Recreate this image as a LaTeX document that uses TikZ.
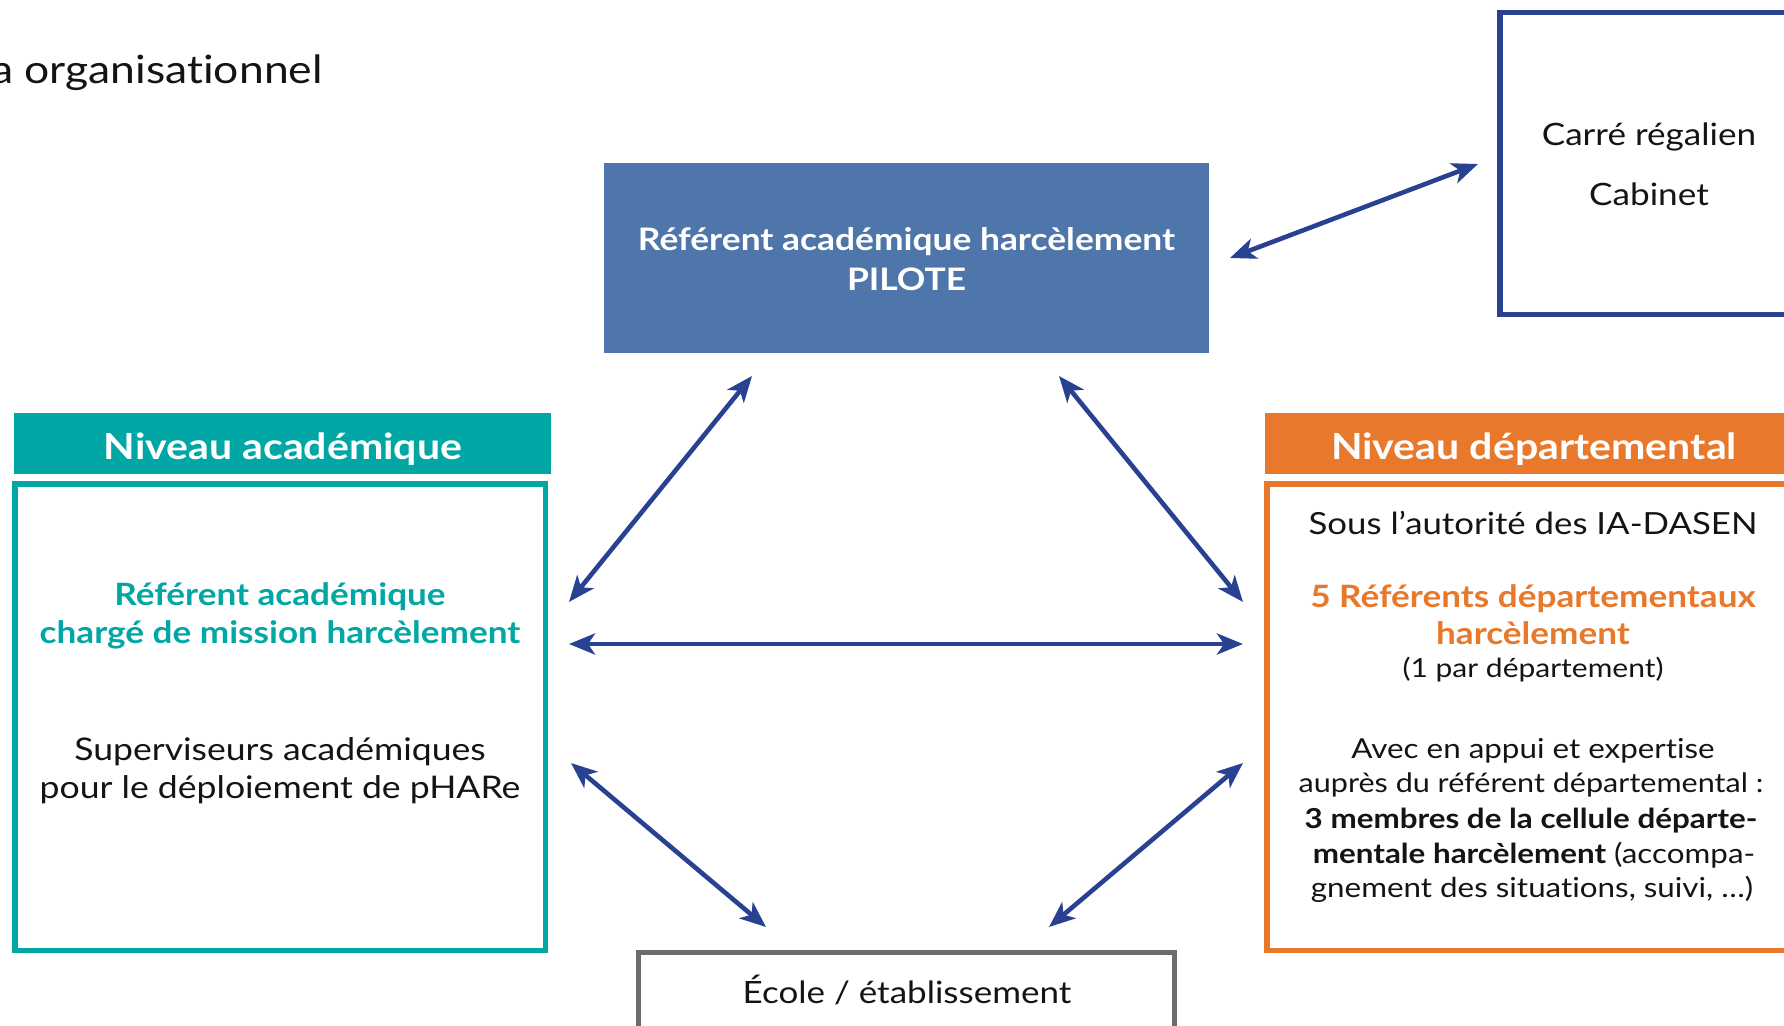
\documentclass[tikz,border=0pt]{standalone}
\usepackage{fontspec}
\setmainfont{Lato}[FakeStretch=1.14, Ligatures={NoCommon,NoContextual,NoRare}]
\usetikzlibrary{arrows.meta}
\definecolor{pilotblue}{RGB}{79,118,170}
\definecolor{arrowblue}{RGB}{40,66,145}
\definecolor{tealc}{RGB}{0,167,165}
\definecolor{orangec}{RGB}{232,121,44}
\definecolor{greyc}{RGB}{108,108,108}
\definecolor{txt}{RGB}{20,20,20}
\newcommand{\fsz}[1]{\fontsize{#1}{#1}\selectfont}
\tikzset{
  box/.style={rectangle, inner sep=0pt, outer sep=0pt},
  txtline/.style={anchor=base, inner sep=0pt, text=txt},
  biarrow/.style={draw=arrowblue, line width=4.6pt,
    {Stealth[length=26pt,width=21pt,inset=7pt]}-{Stealth[length=26pt,width=21pt,inset=7pt]}},
}
\begin{document}
\begin{tikzpicture}[x=1pt,y=-1pt]
\useasboundingbox (0,0) rectangle (1784,1025);
\fill[white] (0,0) rectangle (1784,1025);

% title
\node[txtline, anchor=base west, font=\fsz{39}] (title) at (-9,83) {a organisationnel};

% pilote
\node[box, fill=pilotblue, minimum width=605pt, minimum height=190pt] (pilote) at (906.5,258) {};
\node[txtline, text=white, font=\bfseries\fsz{31}] (pil1) at (906.5,250) {Référent académique harcèlement};
\node[txtline, text=white, font=\bfseries\fsz{31}] (pil2) at (906.5,290) {PILOTE};

% carre
\node[box, draw=arrowblue, line width=5.5pt, minimum width=400pt, minimum height=301.5pt] (carre) at (1699.9,163.5) {};
\node[txtline, font=\fsz{30.8}] (car1) at (1649,145) {Carré régalien};
\node[txtline, font=\fsz{30.8}] (car2) at (1649,205) {Cabinet};

% academique
\node[box, fill=tealc, minimum width=537pt, minimum height=61pt] (acadhead) at (282.5,443.5) {};
\node[txtline, text=white, font=\bfseries\fsz{36}] (acadtitle) at (283,459) {Niveau académique};
\node[box, draw=tealc, line width=5.5pt, minimum width=530.5pt, minimum height=466.5pt] (acadbox) at (280,717) {};
\node[txtline, text=tealc, font=\bfseries\fsz{30.8}] (ac1) at (280,605) {Référent académique};
\node[txtline, text=tealc, font=\bfseries\fsz{30.8}] (ac2) at (280,643) {chargé de mission harcèlement};
\node[txtline, font=\fsz{31.2}] (ac3) at (280,760) {Superviseurs académiques};
\node[txtline, font=\fsz{31.2}] (ac4) at (280,798) {pour le déploiement de pHARe};

% departemental
\node[box, fill=orangec, minimum width=537pt, minimum height=61pt] (depthead) at (1533.5,443.5) {};
\node[txtline, text=white, font=\bfseries\fsz{36}] (depttitle) at (1534,459) {Niveau départemental};
\node[box, draw=orangec, line width=5.5pt, minimum width=530.5pt, minimum height=466.5pt] (deptbox) at (1532,717) {};
\node[txtline, font=\fsz{30.5}] (d1) at (1533,534) {Sous l’autorité des IA-DASEN};
\node[txtline, text=orangec, font=\bfseries\fsz{30.8}] (d2) at (1533,607) {5 Référents départementaux};
\node[txtline, text=orangec, font=\bfseries\fsz{30.8}] (d3) at (1533,644) {harcèlement};
\node[txtline, font=\fsz{26.3}] (d4) at (1533,677) {(1 par département)};
\node[txtline, font=\fsz{27.5}] (d5) at (1533,758) {Avec en appui et expertise};
\node[txtline, font=\fsz{26.8}] (d6) at (1531,792) {auprès du référent départemental :};
\node[txtline, font=\bfseries\fsz{27.5}] (d7) at (1531,828) {3 membres de la cellule départe-};
\node[txtline, font=\fsz{27.5}] (d8) at (1534,863) {\textbf{mentale harcèlement} (accompa-};
\node[txtline, font=\fsz{27.5}] (d9) at (1532,897) {gnement des situations, suivi, …)};

% ecole
\node[box, draw=greyc, line width=5pt, minimum width=536pt, minimum height=147.5pt] (ecole) at (906.5,1026.25) {};
\node[txtline, font=\fsz{30.7}] (ecoletxt) at (907,1003) {École / établissement};

% arrow end points
\coordinate (pc1) at (1230,258);
\coordinate (pc2) at (1478,164);
\coordinate (pa1) at (752,376);
\coordinate (pa2) at (569,602);
\coordinate (pd1) at (1059,376);
\coordinate (pd2) at (1243,602);
\coordinate (ad1) at (569,644);
\coordinate (ad2) at (1243,644);
\coordinate (ae1) at (571,763);
\coordinate (ae2) at (766,927);
\coordinate (de1) at (1243,763);
\coordinate (de2) at (1049,927);

\draw[biarrow] (pc1) -- (pc2);
\draw[biarrow] (pa1) -- (pa2);
\draw[biarrow] (pd1) -- (pd2);
\draw[biarrow] (ad1) -- (ad2);
\draw[biarrow] (ae1) -- (ae2);
\draw[biarrow] (de1) -- (de2);
\end{tikzpicture}
\end{document}
